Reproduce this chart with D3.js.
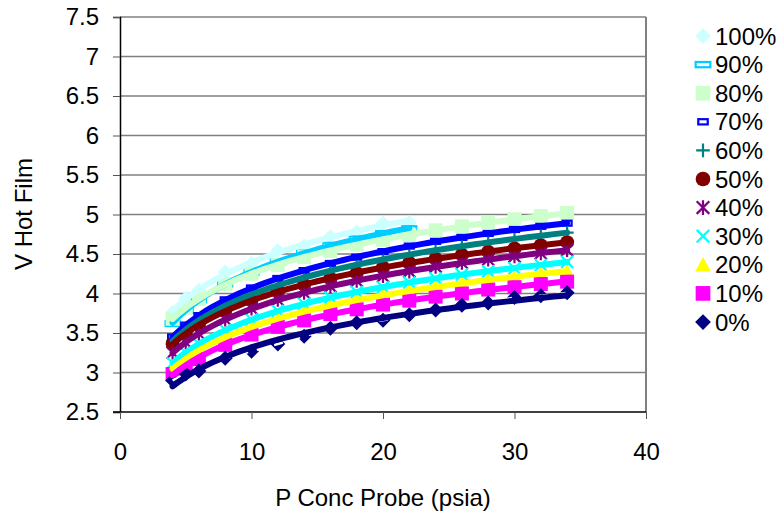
<!DOCTYPE html>
<html>
<head>
<meta charset="utf-8">
<script src="https://cdn.jsdelivr.net/npm/d3@7"></script>
<style>
  html, body { margin: 0; padding: 0; background: #fff; }
  svg text { font-family: "Liberation Sans", Arial, sans-serif; fill: #000; }
</style>
</head>
<body>
<svg id="chart" width="779" height="518"></svg>
<script>
// ---------------- data ----------------
const pressures = [4, 5, 6, 8, 10, 12, 14, 16, 18, 20, 22, 24, 26, 28, 30, 32, 34];
const seriesNames = ["100%", "90%", "80%", "70%", "60%", "50%", "40%", "30%", "20%", "10%", "0%"];
const v100 = [3.76, 3.94, 4.04, 4.27, 4.38, 4.54, 4.60, 4.72, 4.78, 4.89, 4.90];
const v90  = [3.62, 3.79, 3.92, 4.12, 4.27, 4.40, 4.51, 4.61, 4.69, 4.76, 4.82];
const v80  = [3.68, 3.82, 3.93, 4.12, 4.25, 4.36, 4.46, 4.54, 4.62, 4.68, 4.74, 4.80, 4.85, 4.90, 4.94, 4.98, 5.02];
const v70  = [3.45, 3.60, 3.72, 3.92, 4.07, 4.19, 4.29, 4.38, 4.46, 4.53, 4.60, 4.66, 4.71, 4.76, 4.81, 4.85, 4.89];
const v60  = [3.40, 3.54, 3.66, 3.85, 3.99, 4.10, 4.20, 4.29, 4.36, 4.43, 4.49, 4.55, 4.60, 4.65, 4.69, 4.73, 4.77];
const v50  = [3.36, 3.49, 3.60, 3.78, 3.91, 4.02, 4.11, 4.19, 4.26, 4.33, 4.39, 4.44, 4.49, 4.53, 4.57, 4.61, 4.65];
const v40  = [3.25, 3.38, 3.49, 3.67, 3.81, 3.92, 4.01, 4.09, 4.16, 4.22, 4.28, 4.34, 4.39, 4.43, 4.47, 4.51, 4.55];
const v30  = [3.12, 3.25, 3.36, 3.54, 3.67, 3.78, 3.87, 3.95, 4.02, 4.08, 4.14, 4.19, 4.24, 4.28, 4.32, 4.36, 4.40];
const v20  = [3.05, 3.17, 3.27, 3.45, 3.58, 3.68, 3.77, 3.85, 3.92, 3.98, 4.03, 4.08, 4.13, 4.17, 4.21, 4.25, 4.28];
const v10  = [2.98, 3.09, 3.17, 3.35, 3.48, 3.58, 3.66, 3.74, 3.80, 3.86, 3.91, 3.96, 4.00, 4.05, 4.08, 4.12, 4.15];
const v0   = [2.90, 2.98, 3.02, 3.18, 3.27, 3.36, 3.46, 3.56, 3.63, 3.66, 3.73, 3.79, 3.85, 3.88, 3.95, 3.97, 4.01];
const xTicks = [0, 10, 20, 30, 40];
const yTicks = [2.5, 3, 3.5, 4, 4.5, 5, 5.5, 6, 6.5, 7, 7.5];

// ---------------- styles ----------------
const seriesValues = [v100, v90, v80, v70, v60, v50, v40, v30, v20, v10, v0];
const colors = ["#CCFFFF", "#00CCFF", "#CCFFCC", "#0000FF", "#008080", "#800000", "#800080", "#00FFFF", "#FFFF00", "#FF00FF", "#000080"];
const shapes = ["diamond", "dash", "square", "dashSmall", "plus", "circle", "asterisk", "cross", "triangle", "square", "diamond"];

const series = seriesNames.map((name, i) => ({
  name, color: colors[i], shape: shapes[i],
  points: seriesValues[i].map((v, j) => ({ p: pressures[j], v }))
}));

const svg = d3.select("#chart");
const x = d3.scaleLinear().domain([0, 40]).range([120, 646]);
const y = d3.scaleLinear().domain([2.5, 7.5]).range([412, 17]);

// grid lines
svg.append("g").selectAll("line").data(yTicks.filter(t => t > 2.5)).join("line")
  .attr("x1", x(0)).attr("x2", x(40))
  .attr("y1", d => y(d)).attr("y2", d => y(d))
  .attr("stroke", "#808080").attr("stroke-width", 1.3);
// right border
svg.append("line").attr("x1", x(40)).attr("x2", x(40)).attr("y1", y(7.5)).attr("y2", y(2.5))
  .attr("stroke", "#808080").attr("stroke-width", 2);

// axes
const fmt = d => String(+d.toFixed(1));
const yAxis = svg.append("g").attr("transform", `translate(${x(0)},0)`)
  .call(d3.axisLeft(y).tickValues(yTicks).tickFormat(fmt).tickSize(7).tickPadding(14));
const xAxis = svg.append("g").attr("transform", `translate(0,${y(2.5)})`)
  .call(d3.axisBottom(x).tickValues(xTicks).tickFormat(fmt).tickSize(7).tickPadding(24));
[yAxis, xAxis].forEach(a => {
  a.select(".domain").attr("stroke", "#000").attr("stroke-width", 1.5);
  a.selectAll(".tick line").attr("stroke", "#555").attr("stroke-width", 1);
  a.selectAll("text").attr("font-size", 24).attr("font-family", "Liberation Sans, Arial, sans-serif").attr("fill", "#000");
});
xAxis.select(".domain").attr("d", `M${x(0) - 7},0H${x(40)}`);

// axis titles
svg.append("text").attr("x", 383).attr("y", 506).attr("text-anchor", "middle")
  .attr("font-size", 24).text("P Conc Probe (psia)");
svg.append("text").attr("transform", "translate(32,214) rotate(-90)").attr("text-anchor", "middle")
  .attr("font-size", 24).text("V Hot Film");

// marker drawing
function drawMarker(g, shape, color, s) {
  s = s || 1;
  switch (shape) {
    case "diamond": {
      const r = 7.5 * s;
      g.append("path").attr("d", `M0,${-r}L${r},0L0,${r}L${-r},0Z`).attr("fill", color); break;
    }
    case "square":
      g.append("rect").attr("x", -7 * s).attr("y", -7 * s).attr("width", 14 * s).attr("height", 14 * s).attr("fill", color); break;
    case "circle":
      g.append("circle").attr("r", 7 * s).attr("fill", color); break;
    case "triangle": {
      const r = 7.5 * s;
      g.append("path").attr("d", `M0,${-r}L${r},${r * 0.85}L${-r},${r * 0.85}Z`).attr("fill", color); break;
    }
    case "dash":
      g.append("rect").attr("x", -7 * s).attr("y", -2.5 * s).attr("width", 14 * s).attr("height", 5 * s)
        .attr("fill", "#fff").attr("stroke", color).attr("stroke-width", 2.2); break;
    case "dashSmall":
      g.append("rect").attr("x", -4.5 * s).attr("y", -2.5 * s).attr("width", 9 * s).attr("height", 5 * s)
        .attr("fill", "#fff").attr("stroke", color).attr("stroke-width", 2.2); break;
    case "plus":
      g.append("path").attr("d", `M${-6.5 * s},0H${6.5 * s}M0,${-6.5 * s}V${6.5 * s}`).attr("stroke", color).attr("stroke-width", 2.2); break;
    case "cross":
      g.append("path").attr("d", `M${-6 * s},${-6 * s}L${6 * s},${6 * s}M${-6 * s},${6 * s}L${6 * s},${-6 * s}`)
        .attr("stroke", color).attr("stroke-width", 2.2); break;
    case "asterisk":
      g.append("path").attr("d", `M${-6 * s},${-6 * s}L${6 * s},${6 * s}M${-6 * s},${6 * s}L${6 * s},${-6 * s}M0,${-7 * s}V${7 * s}`)
        .attr("stroke", color).attr("stroke-width", 2.2); break;
  }
}

// markers
const plot = svg.append("g");
series.forEach(sr => {
  const g = plot.append("g");
  sr.points.forEach(pt => {
    const m = g.append("g").attr("transform", `translate(${x(pt.p)},${y(pt.v)})`);
    drawMarker(m, sr.shape, sr.color);
  });
});
// white dashed connectors
const connector = d3.line().x(d => x(d.p)).y(d => y(d.v));
series.forEach(sr => {
  plot.append("path").attr("d", connector(sr.points)).attr("fill", "none")
    .attr("stroke", "#fff").attr("stroke-width", 2.5).attr("stroke-dasharray", "9,9");
});
// logarithmic trendlines (least squares in ln p)
series.forEach(sr => {
  const lx = sr.points.map(d => Math.log(d.p));
  const vy = sr.points.map(d => d.v);
  const mx = d3.mean(lx), my = d3.mean(vy);
  const b = d3.sum(lx, (l, i) => (l - mx) * (vy[i] - my)) / d3.sum(lx, l => (l - mx) * (l - mx));
  const a = my - b * mx;
  const pmin = d3.min(sr.points, d => d.p), pmax = d3.max(sr.points, d => d.p);
  const pts = d3.range(0, 61).map(k => { const p = pmin + (pmax - pmin) * k / 60; return { p, v: a + b * Math.log(p) }; });
  plot.append("path").attr("d", connector(pts)).attr("fill", "none")
    .attr("stroke", sr.color).attr("stroke-width", 6).attr("stroke-linecap", "round");
});

// legend
const legend = svg.append("g");
series.forEach((sr, i) => {
  const yy = 36 + i * 28.6;
  const m = legend.append("g").attr("transform", `translate(703,${yy})`);
  drawMarker(m, sr.shape, sr.color, 1.05);
  legend.append("text").attr("x", 715).attr("y", yy).attr("dy", "0.36em")
    .attr("font-size", 24).text(sr.name);
});
</script>
</body>
</html>
